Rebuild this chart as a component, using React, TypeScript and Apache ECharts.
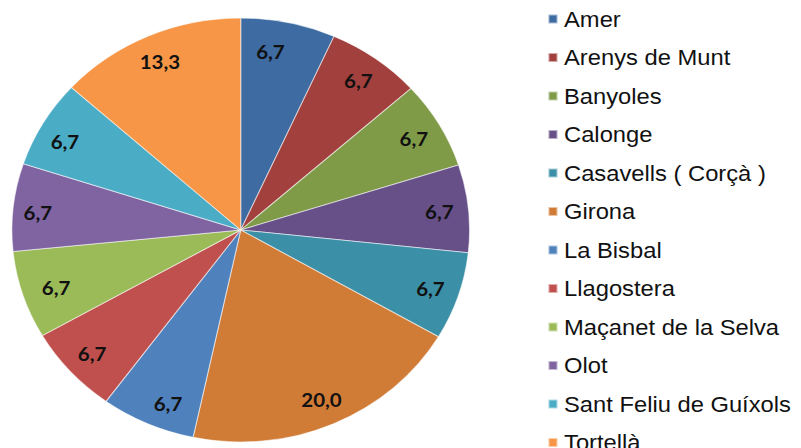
import React, { useEffect, useRef } from "react";
import * as echarts from "echarts";

const categories = [
  "Amer",
  "Arenys de Munt",
  "Banyoles",
  "Calonge",
  "Casavells ( Corçà )",
  "Girona",
  "La Bisbal",
  "Llagostera",
  "Maçanet de la Selva",
  "Olot",
  "Sant Feliu de Guíxols",
  "Tortellà",
];
const values = [6.7, 6.7, 6.7, 6.7, 6.7, 20.0, 6.7, 6.7, 6.7, 6.7, 6.7, 13.3];
const colors = [
  "#3D6BA2",
  "#A2403D",
  "#7F9B48",
  "#675088",
  "#3B8FA6",
  "#D07C37",
  "#4F81BD",
  "#C0504D",
  "#9BBB59",
  "#8064A2",
  "#4BACC6",
  "#F79646",
];

const STRETCH = 1.0795;
const INNER_W = Math.round(801 / STRETCH);

// small manual nudges of individual data labels (as the source chart's layout did)
const labelNudge: Record<string, [number, number]> = {
  Amer: [-11, 2],
  "La Bisbal": [8, 4],
  "Maçanet de la Selva": [5, 1],
  "Olot": [-4, 2],
  "Sant Feliu de Guíxols": [-3, 4],
};

export default function App() {
  const ref = useRef<HTMLDivElement>(null);
  useEffect(() => {
    document.body.style.margin = "0";
    if (!ref.current) return;
    const chart = echarts.init(ref.current, null, { renderer: "svg" });
    const data = categories.map((name, i) => ({
      name,
      value: values[i],
      itemStyle: { color: colors[i] },
    }));
    chart.setOption({
      animation: false,
      backgroundColor: "#ffffff",
      legend: {
        orient: "vertical",
        left: 502,
        top: 3,
        height: 520,
        data: categories,
        icon: "rect",
        itemWidth: 8.5,
        itemHeight: 9,
        itemGap: 16.5,
        selectedMode: false,
        textStyle: {
          fontFamily: "Liberation Sans, Arial, sans-serif",
          fontSize: 22,
          lineHeight: 22,
          color: "#111111",
          padding: [0, 0, 0, 1],
        },
      },
      series: [
        {
          type: "pie",
          center: [223, 230],
          radius: [0, 212],
          startAngle: 90,
          clockwise: true,
          silent: true,
          label: { show: false },
          labelLine: { show: false },
          itemStyle: { borderColor: "rgba(255,255,255,0.55)", borderWidth: 1 },
          data,
        },
        {
          type: "pie",
          center: [223, 230],
          radius: [152, 212],
          startAngle: 90,
          clockwise: true,
          silent: true,
          itemStyle: { color: "rgba(0,0,0,0)", borderWidth: 0 },
          labelLine: { show: false },
          label: {
            show: true,
            position: "inside",
            fontFamily: "Lato, Open Sans, sans-serif",
            fontWeight: "bold",
            fontSize: 19,
            color: "#111111",
            formatter: (p: any) => Number(p.value).toFixed(1).replace(".", ","),
          },
          data: categories.map((name, i) => {
            const n = labelNudge[name];
            return {
              name: name + " ",
              value: values[i],
              ...(n ? { label: { offset: n } } : {}),
            };
          }),
        },
      ],
    });
    return () => chart.dispose();
  }, []);
  return (
    <div style={{ width: 801, height: 448, overflow: "hidden", background: "#fff" }}>
      <div
        ref={ref}
        style={{
          width: INNER_W,
          height: 448,
          transform: `scaleX(${STRETCH})`,
          transformOrigin: "0 0",
        }}
      />
    </div>
  );
}
